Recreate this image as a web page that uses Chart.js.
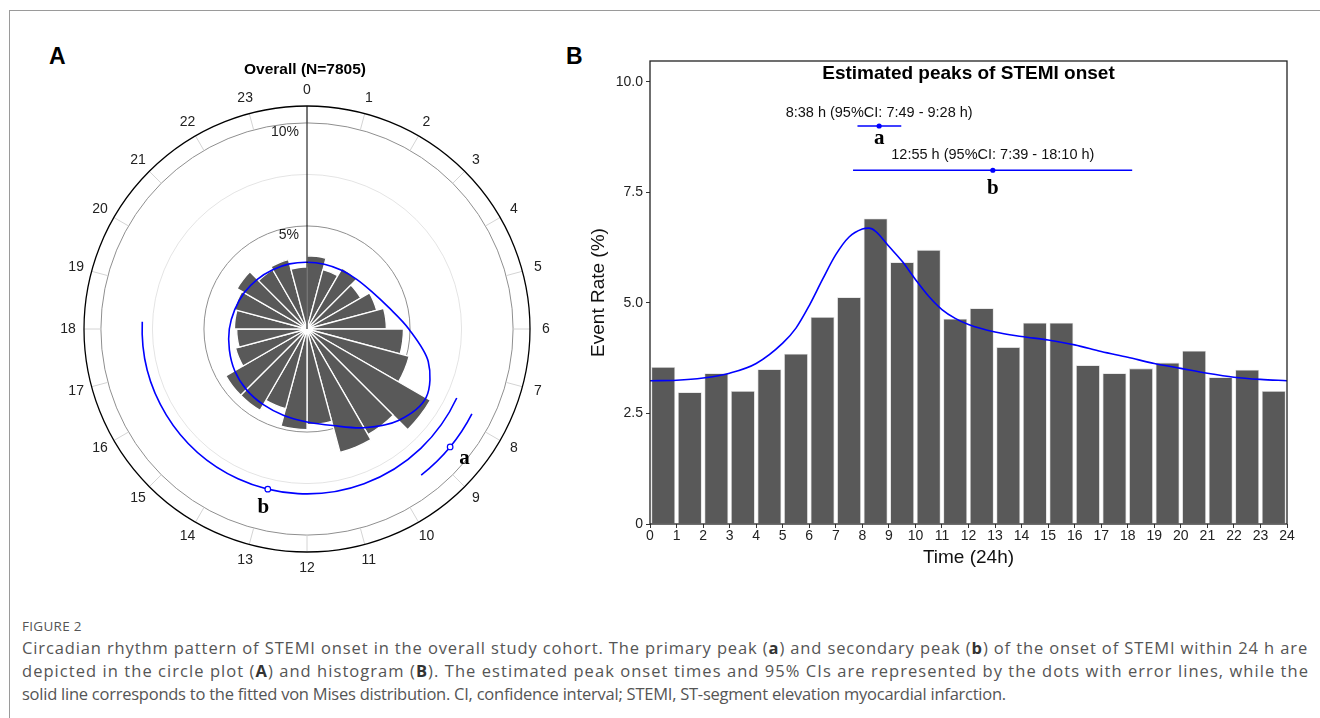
<!DOCTYPE html>
<html>
<head>
<meta charset="utf-8">
<script src="https://cdn.jsdelivr.net/npm/chart.js@4.4.1/dist/chart.umd.min.js"></script>
<style>
html,body{margin:0;padding:0;background:#fff;width:1320px;height:718px;overflow:hidden;font-family:"Liberation Sans",Arial,sans-serif;}
#frameTop{position:absolute;left:9px;top:10px;width:1311px;height:0;border-top:1.5px solid #9a9a9a;}
#frameLeft{position:absolute;left:9px;top:10px;width:0;height:708px;border-left:1.5px solid #9a9a9a;}
.panel{position:absolute;font-weight:bold;font-size:23px;color:#000;line-height:1;}
canvas{position:absolute;}
#cA{left:0;top:0;}
#cB{left:560px;top:0;}
.cap{position:absolute;left:22px;white-space:nowrap;color:#555;font-family:"Open Sans",sans-serif;line-height:1;}
.fig{font-size:13.5px;letter-spacing:0.3px;top:620px;}
.ln{font-size:16.5px;}
.ln b{color:#333;}
</style>
</head>
<body>
<div id="frameTop"></div><div id="frameLeft"></div>
<div class="panel" style="left:49px;top:45px;">A</div>
<div class="panel" style="left:566px;top:45px;">B</div>
<canvas id="cA" width="600" height="600"></canvas>
<canvas id="cB" width="760" height="600"></canvas>
<div class="cap fig">FIGURE 2</div>
<div class="cap ln" data-w="1286" style="top:640px;">Circadian rhythm pattern of STEMI onset in the overall study cohort. The primary peak (<b>a</b>) and secondary peak (<b>b</b>) of the onset of STEMI within 24 h are</div>
<div class="cap ln" data-w="1287" style="top:663px;">depicted in the circle plot (<b>A</b>) and histogram (<b>B</b>). The estimated peak onset times and 95% CIs are represented by the dots with error lines, while the</div>
<div class="cap ln" data-w="984" style="top:686px;">solid line corresponds to the fitted von Mises distribution. CI, confidence interval; STEMI, ST-segment elevation myocardial infarction.</div>
<script>
// ---------------- DATA ----------------
const hourLabels = ['0','1','2','3','4','5','6','7','8','9','10','11','12','13','14','15','16','17','18','19','20','21','22','23'];
const eventRate = [3.55,2.98,3.41,3.01,3.50,3.85,4.68,5.13,6.91,5.92,6.20,4.64,4.88,4.00,4.55,4.55,3.59,3.41,3.52,3.65,3.92,3.32,3.49,3.01];
const fitTime  = [0,1,2,3,4,5,5.5,6,6.5,7,7.5,8,8.25,8.5,9,9.5,10,10.5,11,11.5,12,13,14,15,16,17,18,19,20,21,22,23,24];
const fitValue = [3.24,3.25,3.30,3.41,3.63,4.09,4.43,4.94,5.53,6.09,6.49,6.67,6.69,6.62,6.28,5.94,5.53,5.15,4.85,4.65,4.51,4.34,4.24,4.16,4.05,3.90,3.77,3.63,3.52,3.41,3.32,3.27,3.24];
const peakNames = ['a','b'];
const peakTime = [8.633, 12.917];      // 8:38 h, 12:55 h
const ciLow    = [7.817, 7.650];       // 7:49 h, 7:39 h
const ciHigh   = [9.467, 18.167];      // 9:28 h, 18:10 h
const peakText = ['8:38 h (95%CI: 7:49 - 9:28 h)', '12:55 h (95%CI: 7:39 - 18:10 h)'];
const peakLevel = [9, 8];              // % level at which each peak marker is shown
const yTickValues = [0, 2.5, 5, 7.5, 10];
const ringValues = [0, 5, 7.5, 10];
const ringLabels = {5:'5%', 10:'10%'};
const roseMax = 10.82;
const barMax = 10.47;

Chart.defaults.font.family = '"Liberation Sans", Arial, sans-serif';
const BLUE = '#0000ff';
const fitHourly = fitValue.filter((v,i)=>Number.isInteger(fitTime[i]) && fitTime[i] < 24);

// ---------------- PANEL A : rose ----------------
function angleOf(scale, t){ return scale.getIndexAngle(0) - Math.PI/2 + t/24*2*Math.PI; }
function polarPos(scale, t, v){
  const a = angleOf(scale, t), d = scale.getDistanceFromCenterForValue(v);
  return {x: scale.xCenter + Math.cos(a)*d, y: scale.yCenter + Math.sin(a)*d};
}
const roseDecor = {
  id:'roseDecor',
  beforeDatasetsDraw(chart){
    const s = chart.scales.r, ctx = chart.ctx;
    ctx.save();
    ctx.strokeStyle = '#d4d4d4'; ctx.lineWidth = 1;
    const r1 = s.getDistanceFromCenterForValue(10), r2 = s.drawingArea;
    for (let i=0;i<hourLabels.length;i++){
      const p1 = s.getPointPosition(i, r1), p2 = s.getPointPosition(i, r2);
      ctx.beginPath(); ctx.moveTo(p1.x,p1.y); ctx.lineTo(p2.x,p2.y); ctx.stroke();
    }
    ctx.restore();
  },
  afterDraw(chart){
    const s = chart.scales.r, ctx = chart.ctx;
    ctx.save();
    const top = s.getPointPosition(0, s.drawingArea);
    ctx.strokeStyle = '#000'; ctx.lineWidth = 1;
    ctx.beginPath(); ctx.moveTo(s.xCenter, s.yCenter); ctx.lineTo(top.x, top.y); ctx.stroke();
    ctx.lineWidth = 1.3;
    ctx.beginPath(); ctx.arc(s.xCenter, s.yCenter, s.drawingArea, 0, 2*Math.PI); ctx.stroke();
    ctx.fillStyle = '#222'; ctx.font = '14px "Liberation Sans", Arial, sans-serif';
    ctx.textAlign = 'center'; ctx.textBaseline = 'middle';
    for (let i=0;i<hourLabels.length;i++){
      const p = s.getPointPosition(i, s.drawingArea + 16);
      ctx.fillText(hourLabels[i], p.x, p.y);
    }
    ctx.textAlign = 'right'; ctx.textBaseline = 'top';
    Object.keys(ringLabels).forEach(k=>{
      const y = s.yCenter - s.getDistanceFromCenterForValue(+k);
      ctx.fillText(ringLabels[k], s.xCenter - 8, y + 2);
    });
    ctx.fillStyle = '#000'; ctx.font = 'bold 15.5px "Liberation Sans", Arial, sans-serif';
    ctx.textAlign = 'center'; ctx.textBaseline = 'middle';
    ctx.fillText('Overall (N=7805)', s.xCenter - 2, 70);
    for (let k=0;k<peakTime.length;k++){
      const d = s.getDistanceFromCenterForValue(peakLevel[k]);
      ctx.strokeStyle = BLUE; ctx.lineWidth = 1.6;
      ctx.beginPath(); ctx.arc(s.xCenter, s.yCenter, d, angleOf(s, ciLow[k]), angleOf(s, ciHigh[k])); ctx.stroke();
      const p = polarPos(s, peakTime[k], peakLevel[k]);
      ctx.lineWidth = 1.2; ctx.fillStyle = '#fff';
      ctx.beginPath(); ctx.arc(p.x, p.y, 2.8, 0, 2*Math.PI); ctx.fill(); ctx.stroke();
      const q = polarPos(s, peakTime[k], peakLevel[k] + 0.9);
      ctx.fillStyle = '#000'; ctx.font = 'bold 21px "Liberation Serif", "Times New Roman", serif';
      ctx.textAlign = 'center'; ctx.textBaseline = 'middle';
      ctx.fillText(peakNames[k], q.x, q.y);
    }
    ctx.restore();
  }
};

new Chart(document.getElementById('cA'), {
  type: 'polarArea',
  data: {
    labels: hourLabels,
    datasets: [
      {type:'radar', data: fitHourly, borderColor: BLUE, borderWidth: 1.6, pointRadius: 0, fill: false, tension: 0.32, order: 0},
      {type:'polarArea', data: eventRate, backgroundColor: '#595959', borderColor: '#ffffff', borderWidth: 1.3, order: 1}
    ]
  },
  options: {
    responsive: false, animation: false,
    layout: {padding: {left: 84, right: 70, top: 106, bottom: 48}},
    plugins: {legend: {display: false}, tooltip: {enabled: false}},
    scales: {
      r: {
        min: 0, max: roseMax, startAngle: 0,
        ticks: {display: false},
        afterBuildTicks: s => { s.ticks = ringValues.map(v => ({value: v})); },
        grid: {circular: true,
               color: c => (c.tick && c.tick.value === 7.5) ? '#e4e4e4' : '#8f8f8f',
               lineWidth: 1},
        angleLines: {display: false},
        pointLabels: {display: false}
      }
    }
  },
  plugins: [roseDecor]
});

// ---------------- PANEL B : histogram ----------------
const barDecor = {
  id:'barDecor',
  afterDraw(chart){
    const {ctx, chartArea: ca, scales: {x, y}} = chart;
    ctx.save();
    ctx.strokeStyle = '#222'; ctx.lineWidth = 1.3;
    ctx.strokeRect(ca.left, ca.top, ca.right - ca.left, ca.bottom - ca.top);
    ctx.fillStyle = '#000'; ctx.textAlign = 'center'; ctx.textBaseline = 'middle';
    ctx.font = 'bold 19px "Liberation Sans", Arial, sans-serif';
    ctx.fillText('Estimated peaks of STEMI onset', (ca.left + ca.right)/2, 74);
    const off = [[-13, 18], [-15, 24]];
    for (let k=0;k<peakTime.length;k++){
      const px = x.getPixelForValue(peakTime[k]), py = y.getPixelForValue(peakLevel[k]);
      ctx.font = '14.5px "Liberation Sans", Arial, sans-serif';
      ctx.textBaseline = 'middle';
      ctx.fillStyle = '#111';
      ctx.fillText(peakText[k], px, py + off[k][0]);
      ctx.font = 'bold 21px "Liberation Serif", "Times New Roman", serif';
      ctx.textBaseline = 'alphabetic';
      ctx.fillStyle = '#000';
      ctx.fillText(peakNames[k], px, py + off[k][1]);
    }
    ctx.restore();
  }
};

function ciData(k){ return [{x: ciLow[k], y: peakLevel[k]}, {x: peakTime[k], y: peakLevel[k]}, {x: ciHigh[k], y: peakLevel[k]}]; }

new Chart(document.getElementById('cB'), {
  type: 'bar',
  data: {
    datasets: [
      {type:'line', data: fitTime.map((t,i)=>({x:t, y:fitValue[i]})), borderColor: BLUE, borderWidth: 1.6, pointRadius: 0, cubicInterpolationMode: 'monotone', order: 0},
      {type:'line', data: ciData(0), borderColor: BLUE, backgroundColor: BLUE, borderWidth: 1.6, pointRadius: [0, 2.6, 0], pointBorderWidth: 0, order: 0},
      {type:'line', data: ciData(1), borderColor: BLUE, backgroundColor: BLUE, borderWidth: 1.6, pointRadius: [0, 2.6, 0], pointBorderWidth: 0, order: 0},
      {type:'bar', data: eventRate.map((v,i)=>({x: i + 0.5, y: v})), backgroundColor: '#595959', borderColor: '#d9d9d9', borderWidth: 0.8, barPercentage: 0.9, categoryPercentage: 1, order: 1}
    ]
  },
  options: {
    responsive: false, animation: false,
    layout: {padding: {left: 0, right: 33, top: 61, bottom: 0}},
    plugins: {legend: {display: false}, tooltip: {enabled: false}},
    scales: {
      x: {
        type: 'linear', min: 0, max: 24, offset: false,
        grid: {display: true, drawOnChartArea: false, drawTicks: true, tickLength: 4, color: '#333', offset: false},
        border: {display: false},
        ticks: {stepSize: 1, autoSkip: false, maxRotation: 0, padding: 0, color: '#222', font: {size: 14}},
        title: {display: true, text: 'Time (24h)', color: '#111', font: {size: 19}, padding: {top: 0, bottom: 31}},
        afterFit: s => { s.height = 76; }
      },
      y: {
        min: 0, max: barMax,
        afterBuildTicks: s => { s.ticks = yTickValues.map(v => ({value: v})); },
        grid: {display: true, drawOnChartArea: false, drawTicks: true, tickLength: 4, color: '#333'},
        border: {display: false},
        ticks: {padding: 3, color: '#222', font: {size: 14}, callback: v => v === 0 ? '0' : v.toFixed(1)},
        title: {display: true, text: 'Event Rate (%)', color: '#111', font: {size: 19}, padding: {top: 27, bottom: 0}},
        afterFit: s => { s.width = 90; }
      }
    }
  },
  plugins: [barDecor]
});

// caption line width fitting
document.querySelectorAll('.ln').forEach(el => {
  const target = +el.dataset.w;
  const w = el.getBoundingClientRect().width;
  const n = el.textContent.length;
  el.style.letterSpacing = ((target - w) / n).toFixed(3) + 'px';
});
</script>
</body>
</html>
